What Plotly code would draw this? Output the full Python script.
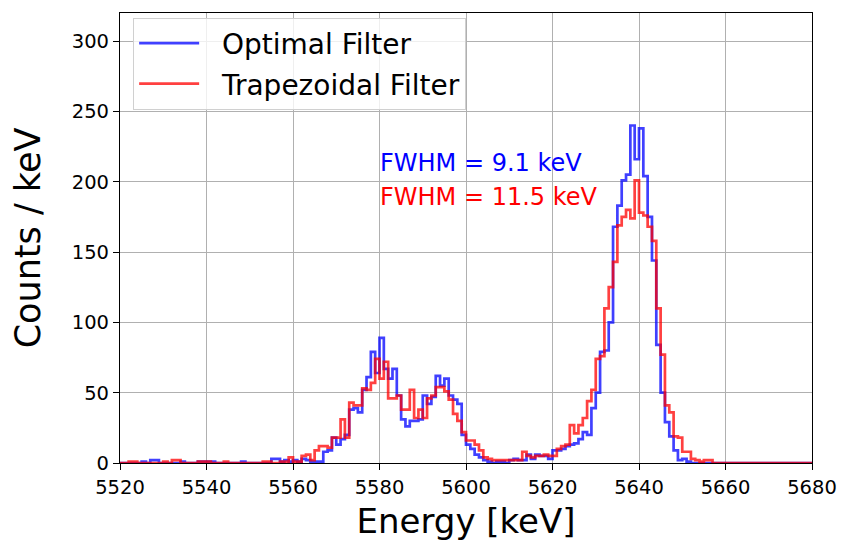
import numpy as np
import plotly.graph_objects as go

# Histogram: 1 keV bins from 5520 to 5680 keV
bin_start = 5520
bin_width = 1
n_bins = 160

optimal_counts = [
    0, 0, 0, 0, 0, 1, 0, 2, 2, 0,        # 5520-5529
    0, 0, 0, 0, 1, 0, 0, 0, 1, 1,        # 5530-5539
    1, 1, 0, 0, 0, 0, 0, 0, 1, 0,        # 5540-5549
    0, 0, 0, 0, 0, 3, 3, 1, 2, 1,        # 5550-5559
    2, 1, 3, 2, 1, 1, 1, 8, 9, 18,       # 5560-5569
    13, 17, 20, 38, 39, 36, 52, 61, 79, 64,   # 5570-5579
    89, 67, 60, 67, 48, 31, 26, 30, 30, 31,   # 5580-5589
    48, 42, 47, 62, 55, 60, 48, 45, 42, 20,   # 5590-5599
    13, 10, 6, 4, 2, 1, 0, 1, 1, 0,      # 5600-5609
    2, 3, 2, 2, 6, 3, 6, 5, 5, 3,        # 5610-5619
    9, 9, 10, 12, 13, 14, 17, 22, 20, 39,     # 5620-5629
    50, 79, 80, 100, 168, 183, 201, 205, 240, 216,  # 5630-5639
    238, 204, 175, 144, 84, 50, 29, 19, 9, 2,  # 5640-5649
    3, 1, 0, 0, 0, 0, 0, 0, 0, 0,        # 5650-5659
    0, 0, 0, 0, 0, 0, 0, 0, 0, 0,        # 5660-5669
    0, 0, 0, 0, 0, 0, 0, 0, 0, 0,        # 5670-5679
]

trapezoidal_counts = [
    0, 0, 1, 1, 0, 0, 0, 0, 0, 0,        # 5520-5529
    1, 0, 2, 2, 0, 0, 0, 0, 1, 1,        # 5530-5539
    1, 0, 0, 0, 1, 0, 0, 0, 0, 0,        # 5540-5549
    0, 0, 0, 1, 1, 0, 0, 1, 1, 4,        # 5550-5559
    1, 1, 5, 6, 2, 9, 12, 12, 11, 18,    # 5560-5569
    18, 31, 18, 43, 41, 41, 53, 52, 57, 74,   # 5570-5579
    60, 72, 46, 46, 48, 38, 38, 52, 32, 38,   # 5580-5589
    32, 46, 48, 54, 54, 51, 45, 35, 30, 22,   # 5590-5599
    16, 16, 13, 9, 4, 3, 2, 2, 2, 2,     # 5600-5609
    2, 2, 2, 8, 5, 4, 5, 5, 6, 5,        # 5610-5619
    5, 10, 12, 13, 27, 21, 27, 32, 44, 52,    # 5620-5629
    74, 76, 110, 125, 143, 169, 175, 180, 174, 201,  # 5630-5639
    178, 176, 168, 158, 110, 77, 41, 36, 19, 18,  # 5640-5649
    8, 8, 3, 2, 1, 2, 2, 0, 0, 0,        # 5650-5659
    0, 0, 0, 0, 0, 0, 0, 0, 0, 0,        # 5660-5669
    0, 0, 0, 0, 0, 0, 0, 0, 0, 0,        # 5670-5679
]

series_names = ["Optimal Filter", "Trapezoidal Filter"]
series_colors = ["rgba(0,0,255,0.75)", "rgba(255,0,0,0.75)"]
fwhm_labels = ["FWHM = 9.1 keV", "FWHM = 11.5 keV"]
fwhm_colors = ["#0000ff", "#ff0000"]

x_ticks = [5520, 5540, 5560, 5580, 5600, 5620, 5640, 5660, 5680]
y_ticks = [0, 50, 100, 150, 200, 250, 300]

edges = bin_start + bin_width * np.arange(n_bins + 1)


def step_path(counts):
    xs = [edges[0]] + list(edges)
    ys = [0] + list(counts) + [0]
    return xs, ys


FONT = "DejaVu Sans"
PAD = "\u00a0\u00a0"
fig = go.Figure()
for i, (name, counts) in enumerate(zip(series_names, [optimal_counts, trapezoidal_counts])):
    xs, ys = step_path(counts)
    fig.add_trace(go.Scatter(
        x=xs, y=ys, mode="lines", name=PAD + name,
        line=dict(color=series_colors[i], width=2.7, shape="hv"),
        legendgroup=f"g{i}",
    ))

for i, (txt, col) in enumerate(zip(fwhm_labels, fwhm_colors)):
    fig.add_annotation(
        x=0.373, y=[0.667, 0.591][i], xref="paper", yref="paper",
        xanchor="left", yanchor="middle", text=txt, showarrow=False,
        font=dict(family=FONT, size=24, color=col),
    )

axis_common = dict(
    showline=True, linecolor="black", linewidth=1.2, mirror=True,
    ticks="outside", ticklen=6, tickwidth=1.2, tickcolor="black",
    showgrid=True, gridcolor="#b0b0b0", gridwidth=1.3,
    zeroline=False, tickfont=dict(family=FONT, size=19.5, color="black"),
)

fig.update_xaxes(
    range=[5520, 5680], tickvals=x_ticks, ticktext=[str(v) for v in x_ticks],
    title=dict(text="Energy [keV]", font=dict(family=FONT, size=34, color="black"), standoff=11),
    automargin=False,
    **axis_common,
)
fig.update_yaxes(
    range=[0, 320], tickvals=y_ticks, ticktext=[str(v) for v in y_ticks],
    title=dict(text="Counts / keV", font=dict(family=FONT, size=35, color="black"), standoff=20),
    automargin=False,
    **axis_common,
)

fig.update_layout(
    width=847, height=546,
    margin=dict(l=120, r=35, t=13, b=83),
    paper_bgcolor="white", plot_bgcolor="white",
    font=dict(family=FONT),
    legend=dict(
        x=0.019, y=0.99, xanchor="left", yanchor="top",
        bgcolor="rgba(255,255,255,0.8)", bordercolor="#d0d0d0", borderwidth=1,
        font=dict(family=FONT, size=28, color="black"),
        tracegroupgap=1, itemwidth=60,
    ),
)

fig.write_html("out.html")
